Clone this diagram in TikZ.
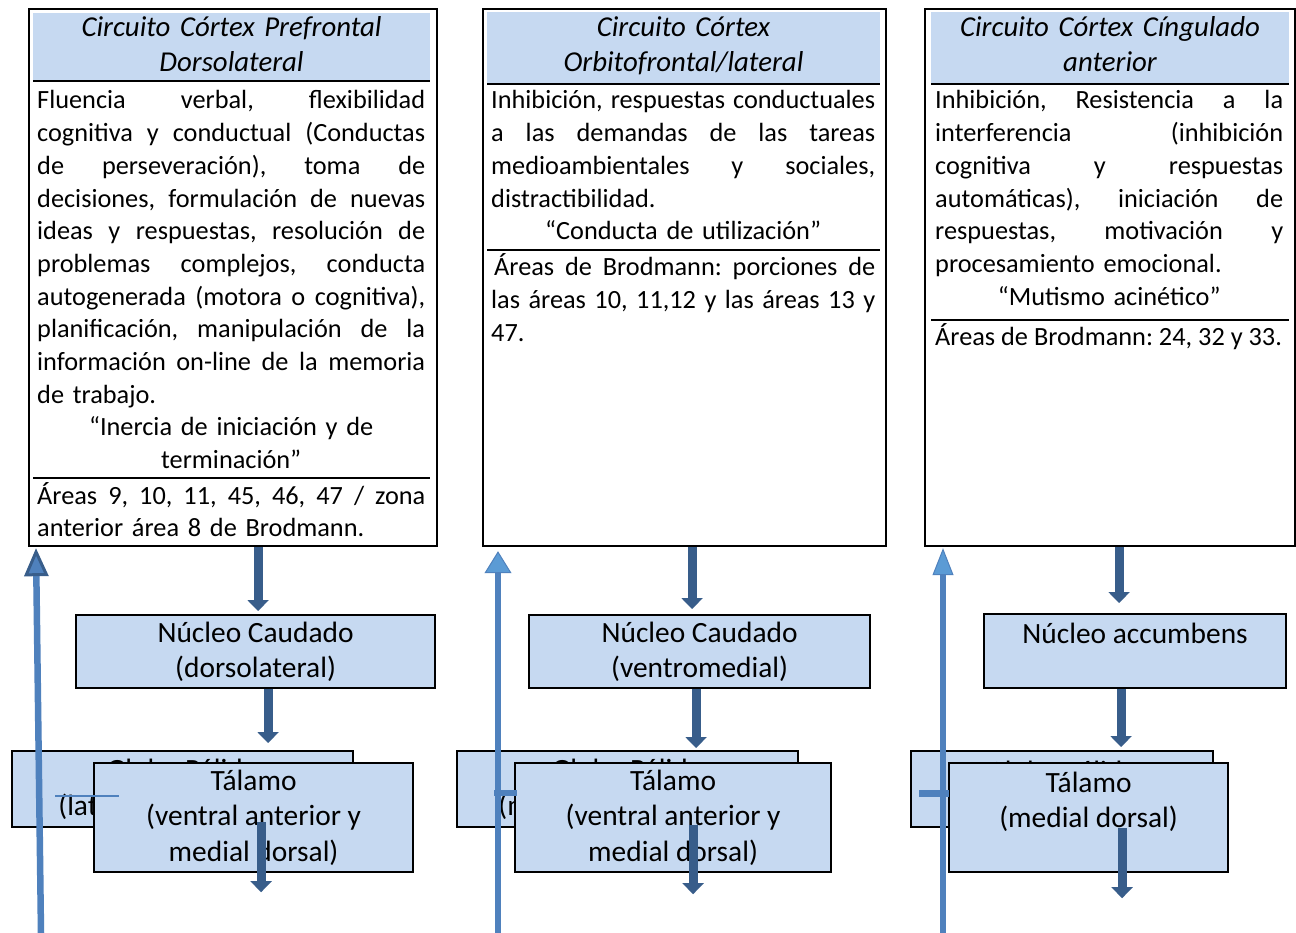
\documentclass[tikz,border=0pt]{standalone}
\usepackage{fontspec}
\setmainfont{Carlito}
\usetikzlibrary{arrows.meta,calc}
\definecolor{band}{HTML}{C6D9F1}
\definecolor{darkarr}{HTML}{385D8A}
\definecolor{linebl}{HTML}{4F81BD}
\definecolor{headbl}{HTML}{5B9BD5}
\newcommand\jl[1]{\leavevmode\hbox to\linewidth{\spaceskip=0.2em plus 1fil\xspaceskip=\spaceskip\relax #1}}
\newcommand\cl[1]{\makebox[\linewidth][c]{#1}}
\frenchspacing
\begin{document}
\begin{tikzpicture}[x=1pt,y=-1pt,
  bigbox/.style={draw=black,line width=2.2pt,inner sep=0pt,anchor=north west},
  sepline/.style={line width=2pt,black},
  titletext/.style={anchor=base,inner sep=0pt,text width=#1,align=center,font=\fontsize{28.8}{35}\selectfont\itshape},
  bodytext/.style={anchor=base west,inner sep=0pt,text width=#1,font=\fontsize{26.3}{32.7}\selectfont\frenchspacing},
  stage/.style={draw=black,fill=band,line width=2.2pt,inner sep=0pt,anchor=north west,align=center,font=\fontsize{29.4}{35.5}\selectfont},
  darr/.style={draw=darkarr,line width=9pt,-{Triangle[width=21pt,length=11pt]}},
  upline/.style={draw=linebl,line width=6.5pt},
]
\useasboundingbox (0,0) rectangle (1296,933);
\fill[white] (0,0) rectangle (1296,933);

% ---------- column 1 ----------
\node[bigbox,minimum width=408pt,minimum height=537pt] (b1) at (28,8) {};
\fill[band] (33,13) rectangle (430,80);
\draw[sepline] (33,81) -- (430,81);
\draw[sepline] (33,478) -- (430,478);
\node[titletext=397pt] (t1) at (231.5,37) {Circuito Córtex Prefrontal\\Dorsolateral};
\node[bodytext=388pt] (d1) at (37,109) {%
\jl{Fluencia verbal, flexibilidad}\\
\jl{cognitiva y conductual (Conductas}\\
\jl{de perseveración), toma de}\\
\jl{decisiones, formulación de nuevas}\\
\jl{ideas y respuestas, resolución de}\\
\jl{problemas complejos, conducta}\\
\jl{autogenerada (motora o cognitiva),}\\
\jl{planificación, manipulación de la}\\
\jl{información on-line de la memoria}\\
de trabajo.\\
\cl{“Inercia de iniciación y de}\\
\cl{terminación”}};
\node[bodytext=388pt] (r1) at (37,504) {%
\jl{Áreas 9, 10, 11, 45, 46, 47 / zona}\\
anterior área 8 de Brodmann.};

% ---------- column 2 ----------
\node[bigbox,minimum width=403pt,minimum height=537pt] (b2) at (482,8) {};
\fill[band] (487,12) rectangle (880,83);
\draw[sepline] (487,84) -- (880,84);
\draw[sepline] (487,250) -- (880,250);
\node[titletext=393pt] (t2) at (683.5,37) {Circuito Córtex\\Orbitofrontal/lateral};
\node[bodytext=384pt] (d2) at (491,109) {%
\jl{Inhibición, respuestas conductuales}\\
\jl{a las demandas de las tareas}\\
\jl{medioambientales y sociales,}\\
distractibilidad.\\
\cl{“Conducta de utilización”}};
\node[bodytext=384pt] (r2) at (491,276) {%
\jl{\kern3pt Áreas de Brodmann: porciones de}\\
\jl{las áreas 10, 11,12 y las áreas 13 y}\\
47.};

% ---------- column 3 ----------
\node[bigbox,minimum width=370pt,minimum height=537pt] (b3) at (924,8) {};
\fill[band] (931,12) rectangle (1289,83);
\draw[sepline] (931,84) -- (1289,84);
\draw[sepline] (931,320) -- (1289,320);
\node[titletext=358pt] (t3) at (1110,37) {Circuito Córtex Cíngulado\\anterior};
\node[bodytext=348pt] (d3) at (935,109) {%
\jl{Inhibición, Resistencia a la}\\
\jl{interferencia (inhibición}\\
\jl{cognitiva y respuestas}\\
\jl{automáticas), iniciación de}\\
\jl{respuestas, motivación y}\\
procesamiento emocional.\\
\cl{“Mutismo acinético”}};
\node[anchor=base west,inner sep=0pt,font=\fontsize{26.3}{32.7}\selectfont] (r3) at (935,345) {Áreas de Brodmann: 24, 32 y 33.};

% ---------- lower stages ----------
\node[stage,minimum width=359pt,minimum height=73pt] (nc1) at (75,614) {Núcleo Caudado\\(dorsolateral)};
\node[stage,minimum width=341pt,minimum height=73pt] (nc2) at (528,614) {Núcleo Caudado\\(ventromedial)};
\node[stage,minimum width=302pt,minimum height=74pt] (nc3) at (983,613) {Núcleo accumbens\\\rule{0pt}{0pt}};

\node[stage,minimum width=341pt,minimum height=76pt] (gp1) at (11,750) {Globo Pálido\\(lateral dorsomedial)};
\node[stage,minimum width=341pt,minimum height=76pt] (gp2) at (456,750) {Globo Pálido\\(medial rostromedial)};
\node[stage,minimum width=302pt,minimum height=76pt] (gp3) at (910,750) {Globo Pálido\\\rule{0pt}{0pt}};

\node[stage,minimum width=319pt,minimum height=109pt] (tl1) at (93,762) {Tálamo\\(ventral anterior y\\medial dorsal)};
\node[stage,minimum width=316pt,minimum height=109pt] (tl2) at (514,762) {Tálamo\\(ventral anterior y\\medial dorsal)};
\node[stage,minimum width=279pt,minimum height=109pt] (tl3) at (948,762) {Tálamo\\(medial dorsal)\\\rule{0pt}{0pt}};

% ---------- dark arrows ----------
\draw[darr] ($(b1.south)+(25,0)$) -- ($(nc1.north)+(2.5,-3)$);
\draw[darr] ($(nc1.south)+(12.5,0)$) -- ($(gp1.north)+(85.5,-7)$);
\draw[darr] ($(tl1.south)+(7.5,-51)$) -- ($(tl1.south)+(7.5,19)$);

\draw[darr] ($(b2.south)+(7.5,0)$) -- ($(nc2.north)+(-7.5,-5)$);
\draw[darr] ($(nc2.south)+(-3.5,0)$) -- ($(gp2.north)+(68.5,-2)$);
\draw[darr] ($(tl2.south)+(20,-48)$) -- ($(tl2.south)+(20,21)$);

\draw[darr] ($(b3.south)+(9,0)$) -- ($(nc3.north)+(-16,-10)$);
\draw[darr] ($(nc3.south)+(-14,0)$) -- ($(gp3.north)+(59,-3)$);
\draw[darr] ($(tl3.south)+(33.5,-45)$) -- ($(tl3.south)+(33.5,25)$);

% ---------- long return lines ----------
\coordinate (u1) at (41,933);
\coordinate (u2) at (498,933);
\coordinate (u3) at (943,933);
\draw[upline,-{Triangle[width=24pt,length=28pt,fill=linebl,color=darkarr,line width=3pt]}] (u1) -- ($(b1.south west)+(8,1)$);
\draw[upline,-{Triangle[width=27pt,length=22pt,fill=headbl,color=linebl,line width=1pt]}] (u2) -- ($(b2.south west)+(16,4)$);
\draw[upline,-{Triangle[width=21pt,length=27pt,fill=headbl,color=linebl,line width=1pt]}] (u3) -- ($(b3.south west)+(19,1)$);

% ---------- small ticks ----------
\draw[linebl,line width=1.5pt] ($(gp1.west)+(44,7)$) -- ($(tl1.west)+(26,-21.5)$);
\draw[linebl,line width=6pt] ($(gp2.west)+(38,4)$) -- ($(tl2.west)+(3,-24.5)$);
\draw[linebl,line width=7pt] ($(gp3.west)+(9,4)$) -- ($(tl3.west)+(1,-24.5)$);
\end{tikzpicture}
\end{document}
